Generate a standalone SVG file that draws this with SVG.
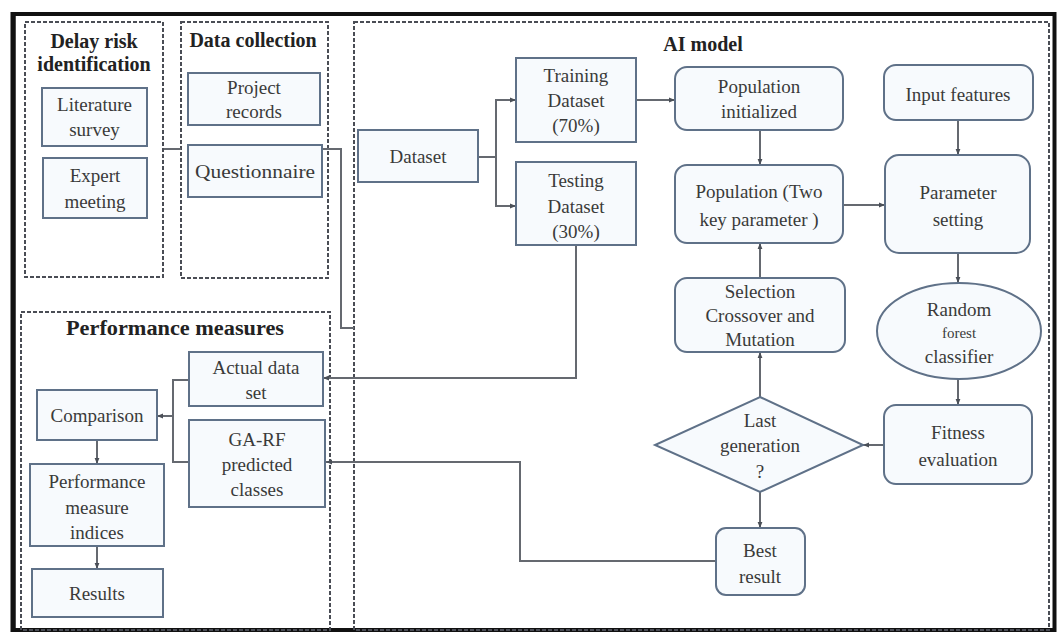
<svg xmlns="http://www.w3.org/2000/svg" width="1059" height="632" viewBox="0 0 1059 632" font-family="'Liberation Serif', 'Times New Roman', serif">
<defs>
<marker id="ah" viewBox="0 0 10 10" refX="10" refY="5" markerWidth="6" markerHeight="6" orient="auto" markerUnits="userSpaceOnUse">
<path d="M0,1 L10,5 L0,9 z" fill="#4a4f57"/>
</marker>
</defs>
<style>
.box{fill:#f7fafd;stroke:#5f7188;stroke-width:2}
.grp{fill:none;stroke:#4a4d55;stroke-width:2;stroke-dasharray:4 2}
.ln{fill:none;stroke:#656970;stroke-width:2}
.t{font-family:'Liberation Serif','Times New Roman',serif;font-size:19px;fill:#3a3a3a;text-anchor:middle}
.s{font-size:15px}
.h{font-family:'Liberation Serif','Times New Roman',serif;font-size:20px;font-weight:bold;fill:#222;text-anchor:middle}
</style>
<rect x="0" y="0" width="1059" height="632" fill="#ffffff"/>
<rect x="13.5" y="14" width="1041" height="616" fill="none" stroke="#111" stroke-width="4"/>
<line x1="13" y1="12" x2="13" y2="632" stroke="#111" stroke-width="5"/>

<g id="containers">
<rect class="grp" x="25" y="22" width="138" height="255"/>
<rect class="grp" x="181" y="22" width="147" height="256"/>
<rect class="grp" x="354" y="22" width="695" height="608"/>
<rect class="grp" x="21" y="312" width="309" height="318"/>
<text class="h" x="94" y="48">Delay risk</text>
<text class="h" x="94" y="71">identification</text>
<text class="h" x="253" y="47">Data collection</text>
<text class="h" x="703" y="51">AI model</text>
<text class="h" x="175" y="335" textLength="218" lengthAdjust="spacingAndGlyphs">Performance measures</text>
</g>

<g id="connectors">
<line class="ln" x1="164" y1="149" x2="181" y2="149"/>
<polyline class="ln" points="322,149 341,149 341,328 354,328"/>
<polyline class="ln" points="478,157 496,157"/>
<polyline class="ln" points="516,100 496,100 496,206 516,206"/>
<line class="ln" x1="496" y1="100" x2="516" y2="100" marker-end="url(#ah)"/>
<line class="ln" x1="496" y1="206" x2="516" y2="206" marker-end="url(#ah)"/>
<line class="ln" x1="636" y1="100" x2="675" y2="100" stroke-width="2.5" marker-end="url(#ah)"/>
<line class="ln" x1="760" y1="130" x2="760" y2="165" marker-end="url(#ah)"/>
<line class="ln" x1="843" y1="205" x2="885" y2="205" marker-end="url(#ah)"/>
<line class="ln" x1="958" y1="120" x2="958" y2="155" marker-end="url(#ah)"/>
<line class="ln" x1="958" y1="253" x2="958" y2="283" marker-end="url(#ah)"/>
<line class="ln" x1="958" y1="379" x2="958" y2="405" marker-end="url(#ah)"/>
<line class="ln" x1="884" y1="445" x2="863" y2="445" marker-end="url(#ah)"/>
<line class="ln" x1="760" y1="397" x2="760" y2="352" marker-end="url(#ah)"/>
<line class="ln" x1="760" y1="278" x2="760" y2="243" marker-end="url(#ah)"/>
<line class="ln" x1="760" y1="492" x2="760" y2="528" marker-end="url(#ah)"/>
<polyline class="ln" points="716,561 520,561 520,462 326,462" marker-end="url(#ah)"/>
<polyline class="ln" points="576,245 576,378 323,378" marker-end="url(#ah)"/>
<polyline class="ln" points="189,380 173,380 173,462 189,462"/>
<line class="ln" x1="173" y1="416" x2="157" y2="416" marker-end="url(#ah)"/>
<line class="ln" x1="97" y1="440" x2="97" y2="464" marker-end="url(#ah)"/>
<line class="ln" x1="97" y1="546" x2="97" y2="569" marker-end="url(#ah)"/>
</g>

<g id="literature">
<rect class="box" x="42" y="88" width="105" height="58"/>
<text class="t" x="94.5" y="111">Literature</text>
<text class="t" x="94.5" y="136">survey</text>
</g>
<g id="expert">
<rect class="box" x="43" y="158" width="104" height="60"/>
<text class="t" x="95" y="182">Expert</text>
<text class="t" x="95" y="208">meeting</text>
</g>
<g id="project">
<rect class="box" x="188" y="73" width="132" height="52"/>
<text class="t" x="254" y="94">Project</text>
<text class="t" x="254" y="118">records</text>
</g>
<g id="questionnaire">
<rect class="box" x="188" y="145" width="134" height="52"/>
<text class="t" x="255" y="178" textLength="120" lengthAdjust="spacingAndGlyphs">Questionnaire</text>
</g>
<g id="dataset">
<rect class="box" x="358" y="130" width="120" height="52"/>
<text class="t" x="418" y="163">Dataset</text>
</g>
<g id="training">
<rect class="box" x="516" y="58" width="120" height="84"/>
<text class="t" x="576" y="82">Training</text>
<text class="t" x="576" y="107">Dataset</text>
<text class="t" x="576" y="132">(70%)</text>
</g>
<g id="testing">
<rect class="box" x="516" y="162" width="120" height="83"/>
<text class="t" x="576" y="187">Testing</text>
<text class="t" x="576" y="213">Dataset</text>
<text class="t" x="576" y="238">(30%)</text>
</g>
<g id="popinit">
<rect class="box" x="675" y="67" width="168" height="63" rx="12"/>
<text class="t" x="759" y="93">Population</text>
<text class="t" x="759" y="118">initialized</text>
</g>
<g id="input">
<rect class="box" x="884" y="65" width="149" height="55" rx="12"/>
<text class="t" x="958" y="101">Input features</text>
</g>
<g id="poptwo">
<rect class="box" x="675" y="165" width="168" height="78" rx="12"/>
<text class="t" x="759" y="198">Population (Two</text>
<text class="t" x="759" y="226">key parameter )</text>
</g>
<g id="param">
<rect class="box" x="885" y="155" width="145" height="98" rx="14"/>
<text class="t" x="958" y="199">Parameter</text>
<text class="t" x="958" y="226">setting</text>
</g>
<g id="selection">
<rect class="box" x="675" y="278" width="170" height="74" rx="12"/>
<text class="t" x="760" y="298">Selection</text>
<text class="t" x="760" y="322">Crossover and</text>
<text class="t" x="760" y="346">Mutation</text>
</g>
<g id="rf">
<ellipse class="box" cx="959" cy="331" rx="82" ry="48"/>
<text class="t" x="959" y="316">Random</text>
<text class="t s" x="959" y="338">forest</text>
<text class="t" x="959" y="363">classifier</text>
</g>
<g id="fitness">
<rect class="box" x="884" y="405" width="148" height="79" rx="12"/>
<text class="t" x="958" y="439">Fitness</text>
<text class="t" x="958" y="466">evaluation</text>
</g>
<g id="lastgen">
<polygon class="box" points="760,397 863,445 760,492 655,445"/>
<text class="t" x="760" y="427">Last</text>
<text class="t" x="760" y="452">generation</text>
<text class="t" x="760" y="478">?</text>
</g>
<g id="best">
<rect class="box" x="716" y="528" width="89" height="67" rx="10"/>
<text class="t" x="760" y="557">Best</text>
<text class="t" x="760" y="583">result</text>
</g>
<g id="actual">
<rect class="box" x="189" y="352" width="134" height="54"/>
<text class="t" x="256" y="374">Actual data</text>
<text class="t" x="256" y="399">set</text>
</g>
<g id="garf">
<rect class="box" x="189" y="420" width="136" height="87"/>
<text class="t" x="257" y="446">GA-RF</text>
<text class="t" x="257" y="471">predicted</text>
<text class="t" x="257" y="496">classes</text>
</g>
<g id="comparison">
<rect class="box" x="37" y="390" width="120" height="50"/>
<text class="t" x="97" y="422">Comparison</text>
</g>
<g id="pmi">
<rect class="box" x="30" y="464" width="134" height="82"/>
<text class="t" x="97" y="488">Performance</text>
<text class="t" x="97" y="514">measure</text>
<text class="t" x="97" y="539">indices</text>
</g>
<g id="results">
<rect class="box" x="32" y="569" width="131" height="48"/>
<text class="t" x="97" y="600">Results</text>
</g>
</svg>
